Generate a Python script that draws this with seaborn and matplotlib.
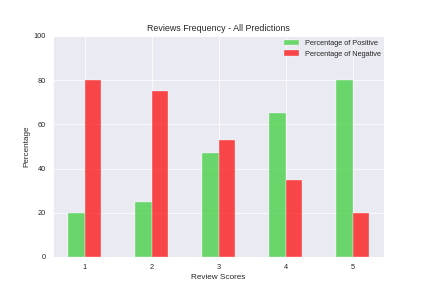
import matplotlib
matplotlib.use('Agg')

import matplotlib.pyplot as plt
import seaborn as sns
import pandas as pd

scores = ['1', '2', '3', '4', '5']
positive = [20, 25, 47, 65, 80]
negative = [80, 75, 53, 35, 20]
labels = ['Percentage of Positive', 'Percentage of Negative']

df = pd.DataFrame({
    'score': scores * 2,
    'pct': positive + negative,
    'kind': [labels[0]] * len(scores) + [labels[1]] * len(scores),
})

sns.set_theme(style='darkgrid', context='notebook')
plt.rcParams['font.family'] = ['Liberation Sans', 'DejaVu Sans']

dpi = 53.375
fig, ax = plt.subplots(figsize=(427 / dpi, 294 / dpi), dpi=dpi)
fig.subplots_adjust(left=0.124, right=0.9, top=0.878, bottom=0.126)

sns.barplot(data=df, x='score', y='pct', hue='kind', width=0.5,
            palette=['limegreen', 'red'], saturation=1, alpha=0.7,
            edgecolor='white', linewidth=0.6, ax=ax)

ax.xaxis.grid(True)
ax.set_xlim(-0.475, 4.475)
ax.set_ylim(0, 100)
ax.set_yticks([0, 20, 40, 60, 80, 100])
ax.tick_params(labelsize=10)
ax.set_title('Reviews Frequency - All Predictions', fontsize=12)
ax.set_xlabel('Review Scores', fontsize=11)
ax.set_ylabel('Percentage', fontsize=11)
ax.legend(loc='upper right', frameon=False, fontsize=10, borderaxespad=0.1)

plt.savefig('out.png', dpi=dpi)
